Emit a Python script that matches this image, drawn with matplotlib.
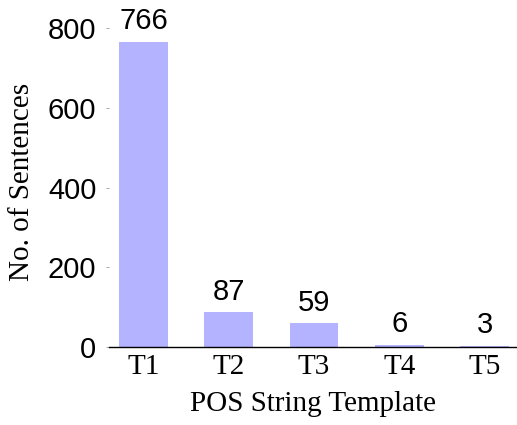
import matplotlib.pyplot as plt

# POS string templates and sentence counts
templates = ['T1', 'T2', 'T3', 'T4', 'T5']
counts = [766, 87, 59, 6, 3]
yticks = [0, 200, 400, 600, 800]

barColor = '#b3b3ff'
sansFont = 'Liberation Sans'
serifFont = 'Liberation Serif'

fig = plt.figure(figsize=(5.17, 4.25), dpi=100)
ax = fig.add_axes([0.2108, 0.1835, 0.7892, 0.7785])

x = list(range(len(templates)))
ax.bar(x, counts, width=0.573, color=barColor, edgecolor='none')

# value labels above bars
for xi, c in zip(x, counts):
    ax.text(xi, c + 17, str(c), ha='center', va='bottom',
            fontsize=21, family=sansFont)

ax.set_xlim(-0.404, 4.38)
ax.set_ylim(0, 830)

ax.set_xticks(x)
ax.set_xticklabels(templates, family=serifFont, fontsize=21)
ax.set_yticks(yticks)
ax.set_yticklabels([str(t) for t in yticks], family=sansFont, fontsize=21)

ax.tick_params(axis='x', length=0, pad=5)
ax.tick_params(axis='y', length=2, width=0.6, color='#999999', pad=7)

for side in ['top', 'right', 'left']:
    ax.spines[side].set_visible(False)
ax.spines['bottom'].set_linewidth(1.0)

ax.set_xlabel('POS String Template', family=serifFont, fontsize=21, labelpad=8)
ax.set_ylabel('No. of Sentences', family=serifFont, fontsize=21, labelpad=9)

fig.savefig('out.png', dpi=100)
